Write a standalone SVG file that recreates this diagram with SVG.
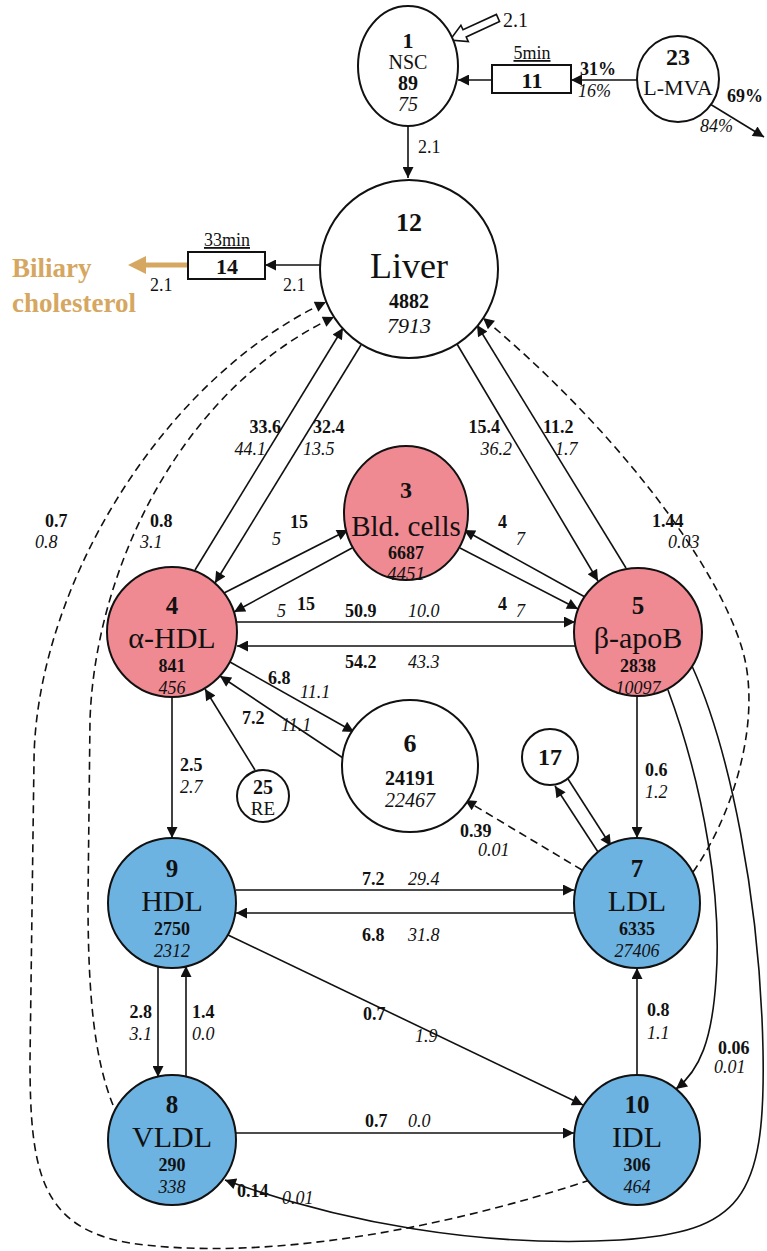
<svg xmlns="http://www.w3.org/2000/svg" width="767" height="1251" viewBox="0 0 767 1251" font-family="Liberation Serif, serif">
<style>
text{font-family:"Liberation Serif","Times New Roman",serif;fill:#111}
.b{font-weight:bold}
.i{font-style:italic}
.l{font-size:18px}
.n{stroke:#111;stroke-width:2}
.w{fill:#fff}
.p{fill:#f08a92}
.c{fill:#6db3e2}
.e{stroke:#111;stroke-width:1.6;fill:none}
.d{stroke-dasharray:8,5}
.m{text-anchor:middle}
.r{text-anchor:end}
.nm{font-size:30px}
.v{font-size:18px}
.h{font-size:25px}
</style>
<defs>
<marker id="ah" viewBox="0 0 10 10" refX="10" refY="5" markerWidth="15" markerHeight="11" markerUnits="userSpaceOnUse" orient="auto"><path d="M0,0 L10,5 L0,10 z" fill="#111"/></marker>
</defs>
<g id="connectors">
<line class="e" x1="408" y1="126" x2="408" y2="178" marker-end="url(#ah)"/>
<line class="e" x1="637" y1="80" x2="571" y2="80" marker-end="url(#ah)"/>
<line class="e" x1="492" y1="80" x2="458" y2="80" marker-end="url(#ah)"/>
<line class="e" x1="710" y1="104" x2="764" y2="137" marker-end="url(#ah)"/>
<line class="e" x1="320" y1="265" x2="265" y2="265" marker-end="url(#ah)"/>
<line x1="188" y1="265" x2="144" y2="265" stroke="#d5a761" stroke-width="5"/>
<polygon points="128,265 146,256 146,274" fill="#d5a761"/>
<polygon points="499.6,21.6 466.2,37 468.3,41.6 450,40 460.9,25.2 463,29.8 496.4,14.4" fill="#fff" stroke="#111" stroke-width="1.6"/>
<line class="e" x1="195" y1="570" x2="343" y2="328" marker-end="url(#ah)"/>
<line class="e" x1="361" y1="345" x2="215" y2="583" marker-end="url(#ah)"/>
<line class="e" x1="457" y1="344" x2="598" y2="581" marker-end="url(#ah)"/>
<line class="e" x1="626" y1="568" x2="477" y2="325" marker-end="url(#ah)"/>
<path class="e d" d="M113,1105 C95,1060 88,1000 88,900 L90,720 C95,570 180,390 334,317" marker-end="url(#ah)"/>
<path class="e d" d="M590,1180 C440,1230 260,1262 130,1243 C40,1228 30,1170 30,1060 L34,760 C36,590 160,380 326,302" marker-end="url(#ah)"/>
<path class="e d" d="M693,872 C730,820 760,730 745,660 C730,590 640,450 483,318" marker-end="url(#ah)"/>
<path class="e" d="M668,690 C705,790 722,900 716,980 C712,1040 700,1070 676,1089" marker-end="url(#ah)"/>
<path class="e" d="M692,666 C730,750 760,900 763,1050 C766,1200 740,1232 620,1240 C480,1248 340,1222 225,1180" marker-end="url(#ah)"/>
<line class="e" x1="224" y1="593" x2="348" y2="530" marker-end="url(#ah)"/>
<line class="e" x1="352" y1="548" x2="234" y2="612" marker-end="url(#ah)"/>
<line class="e" x1="585" y1="597" x2="464" y2="530" marker-end="url(#ah)"/>
<line class="e" x1="460" y1="548" x2="578" y2="609" marker-end="url(#ah)"/>
<line class="e" x1="237" y1="622" x2="575" y2="622" marker-end="url(#ah)"/>
<line class="e" x1="576" y1="646" x2="237" y2="646" marker-end="url(#ah)"/>
<line class="e" x1="230" y1="662" x2="354" y2="732" marker-end="url(#ah)"/>
<line class="e" x1="343" y1="758" x2="220" y2="676" marker-end="url(#ah)"/>
<line class="e" x1="255" y1="770" x2="205" y2="689" marker-end="url(#ah)"/>
<line class="e" x1="172" y1="697" x2="172" y2="838" marker-end="url(#ah)"/>
<line class="e" x1="637" y1="696" x2="637" y2="838" marker-end="url(#ah)"/>
<line class="e" x1="568" y1="779" x2="611" y2="846" marker-end="url(#ah)"/>
<line class="e" x1="598" y1="852" x2="555" y2="786" marker-end="url(#ah)"/>
<line class="e d" x1="582" y1="870" x2="465" y2="800" marker-end="url(#ah)"/>
<line class="e" x1="236" y1="890" x2="574" y2="890" marker-end="url(#ah)"/>
<line class="e" x1="574" y1="913" x2="236" y2="913" marker-end="url(#ah)"/>
<line class="e" x1="228" y1="935" x2="583" y2="1105" marker-end="url(#ah)"/>
<line class="e" x1="158" y1="967" x2="158" y2="1077" marker-end="url(#ah)"/>
<line class="e" x1="186" y1="1077" x2="186" y2="966" marker-end="url(#ah)"/>
<line class="e" x1="236" y1="1133" x2="574" y2="1133" marker-end="url(#ah)"/>
<line class="e" x1="637" y1="1075" x2="637" y2="968" marker-end="url(#ah)"/>
</g>
<g id="labels">
<text x="503" y="27" style="font-size:20px">2.1</text>
<text class="l" x="418" y="153">2.1</text>
<text class="l b" x="580" y="75">31%</text>
<text class="l i" x="578" y="97">16%</text>
<text class="l b" x="727" y="102">69%</text>
<text class="l i" x="700" y="132">84%</text>
<text class="l" x="283" y="291">2.1</text>
<text class="l" x="150" y="291">2.1</text>
<text x="12" y="277" style="font-size:27px;font-weight:bold;fill:#d5a761">Biliary</text>
<text x="12" y="312" style="font-size:27px;font-weight:bold;fill:#d5a761">cholesterol</text>
<text class="l b r" x="281" y="433">33.6</text>
<text class="l i r" x="266" y="455">44.1</text>
<text class="l b" x="313" y="433">32.4</text>
<text class="l i" x="303" y="455">13.5</text>
<text class="l b r" x="500" y="433">15.4</text>
<text class="l i r" x="512" y="455">36.2</text>
<text class="l b" x="543" y="433">11.2</text>
<text class="l i" x="555" y="455">1.7</text>
<text class="l b" x="45" y="527">0.7</text>
<text class="l i" x="35" y="548">0.8</text>
<text class="l b" x="150" y="527">0.8</text>
<text class="l i" x="140" y="548">3.1</text>
<text class="l b" x="652" y="527">1.44</text>
<text class="l i" x="668" y="548">0.03</text>
<text class="l b" x="290" y="528">15</text>
<text class="l i" x="272" y="545">5</text>
<text class="l b" x="297" y="610">15</text>
<text class="l i" x="277" y="617">5</text>
<text class="l b" x="498" y="528">4</text>
<text class="l i" x="516" y="545">7</text>
<text class="l b" x="498" y="610">4</text>
<text class="l i" x="516" y="617">7</text>
<text class="l b" x="345" y="617">50.9</text>
<text class="l i" x="408" y="617">10.0</text>
<text class="l b" x="345" y="668">54.2</text>
<text class="l i" x="408" y="668">43.3</text>
<text class="l b" x="268" y="684">6.8</text>
<text class="l i" x="300" y="698">11.1</text>
<text class="l b" x="242" y="724">7.2</text>
<text class="l i" x="281" y="731">11.1</text>
<text class="l b" x="180" y="771">2.5</text>
<text class="l i" x="180" y="793">2.7</text>
<text class="l b" x="645" y="776">0.6</text>
<text class="l i" x="645" y="798">1.2</text>
<text class="l b" x="460" y="837">0.39</text>
<text class="l i" x="478" y="856">0.01</text>
<text class="l b" x="362" y="885">7.2</text>
<text class="l i" x="408" y="885">29.4</text>
<text class="l b" x="362" y="941">6.8</text>
<text class="l i" x="408" y="941">31.8</text>
<text class="l b" x="363" y="1020">0.7</text>
<text class="l i" x="415" y="1042">1.9</text>
<text class="l b r" x="152" y="1018">2.8</text>
<text class="l i r" x="152" y="1040">3.1</text>
<text class="l b" x="192" y="1018">1.4</text>
<text class="l i" x="192" y="1040">0.0</text>
<text class="l b" x="647" y="1016">0.8</text>
<text class="l i" x="647" y="1039">1.1</text>
<text class="l b" x="718" y="1054">0.06</text>
<text class="l i" x="714" y="1073">0.01</text>
<text class="l b" x="365" y="1127">0.7</text>
<text class="l i" x="408" y="1127">0.0</text>
<text class="l b" x="237" y="1197">0.14</text>
<text class="l i" x="282" y="1204">0.01</text>
</g>
<g id="n1">
<ellipse class="n w" cx="408" cy="66" rx="50" ry="60"/>
<text class="m b" x="408" y="48" style="font-size:22px">1</text>
<text class="m" x="408" y="69" style="font-size:20px">NSC</text>
<text class="m b" x="408" y="90" style="font-size:20px">89</text>
<text class="m i" x="408" y="111" style="font-size:20px">75</text>
</g>
<g id="n11">
<rect class="n w" x="492" y="65" width="79" height="28"/>
<text class="m" x="532" y="59" style="font-size:18px;text-decoration:underline">5min</text>
<text class="m b" x="532" y="88" style="font-size:22px">11</text>
</g>
<g id="n23">
<ellipse class="n w" cx="678" cy="79" rx="41" ry="43"/>
<text class="m b" x="678" y="65" style="font-size:24px">23</text>
<text class="m" x="678" y="95" style="font-size:22px">L-MVA</text>
</g>
<g id="n12">
<circle class="n w" cx="409" cy="269" r="89"/>
<text class="m b" x="409" y="231" style="font-size:26px">12</text>
<text class="m" x="409" y="278" style="font-size:36px">Liver</text>
<text class="m b" x="409" y="308" style="font-size:20px">4882</text>
<text class="m i" x="409" y="333" style="font-size:22px">7913</text>
</g>
<g id="n14">
<rect class="n w" x="188" y="252" width="77" height="27"/>
<text class="m" x="227" y="246" style="font-size:18px;text-decoration:underline">33min</text>
<text class="m b" x="227" y="274" style="font-size:22px">14</text>
</g>
<g id="n3">
<ellipse class="n p" cx="406" cy="513" rx="62" ry="67"/>
<text class="m b" x="406" y="498" style="font-size:24px">3</text>
<text class="m" x="406" y="536" style="font-size:29px">Bld. cells</text>
<text class="m b" x="406" y="559" style="font-size:18px">6687</text>
<text class="m i" x="406" y="580" style="font-size:19px">4451</text>
</g>
<g id="n4">
<circle class="n p" cx="172" cy="632" r="65"/>
<text class="m b h" x="172" y="614">4</text>
<text class="m nm" x="172" y="648">α-HDL</text>
<text class="m b v" x="172" y="672">841</text>
<text class="m i v" x="172" y="694">456</text>
</g>
<g id="n5">
<circle class="n p" cx="638" cy="632" r="64"/>
<text class="m b h" x="638" y="614">5</text>
<text class="m nm" x="638" y="648">β-apoB</text>
<text class="m b v" x="638" y="672">2838</text>
<text class="m i v" x="638" y="694">10097</text>
</g>
<g id="n6">
<ellipse class="n w" cx="410" cy="766" rx="68" ry="66"/>
<text class="m b" x="410" y="752" style="font-size:26px">6</text>
<text class="m b" x="410" y="785" style="font-size:20px">24191</text>
<text class="m i" x="410" y="807" style="font-size:20px">22467</text>
</g>
<g id="n25">
<circle class="n w" cx="263" cy="796" r="26"/>
<text class="m b" x="263" y="794" style="font-size:20px">25</text>
<text class="m" x="263" y="815" style="font-size:19px">RE</text>
</g>
<g id="n17">
<circle class="n w" cx="550" cy="757" r="28"/>
<text class="m b" x="550" y="765" style="font-size:24px">17</text>
</g>
<g id="n9">
<ellipse class="n c" cx="172" cy="903" rx="64" ry="65"/>
<text class="m b h" x="172" y="877">9</text>
<text class="m nm" x="172" y="911">HDL</text>
<text class="m b v" x="172" y="935">2750</text>
<text class="m i v" x="172" y="957">2312</text>
</g>
<g id="n7">
<ellipse class="n c" cx="637" cy="903" rx="63" ry="65"/>
<text class="m b h" x="637" y="877">7</text>
<text class="m nm" x="637" y="911">LDL</text>
<text class="m b v" x="637" y="935">6335</text>
<text class="m i v" x="637" y="957">27406</text>
</g>
<g id="n8">
<ellipse class="n c" cx="172" cy="1140" rx="64" ry="65"/>
<text class="m b h" x="172" y="1113">8</text>
<text class="m nm" x="172" y="1147">VLDL</text>
<text class="m b v" x="172" y="1171">290</text>
<text class="m i v" x="172" y="1193">338</text>
</g>
<g id="n10">
<ellipse class="n c" cx="637" cy="1140" rx="63" ry="65"/>
<text class="m b h" x="637" y="1113">10</text>
<text class="m nm" x="637" y="1147">IDL</text>
<text class="m b v" x="637" y="1171">306</text>
<text class="m i v" x="637" y="1193">464</text>
</g>
</svg>
